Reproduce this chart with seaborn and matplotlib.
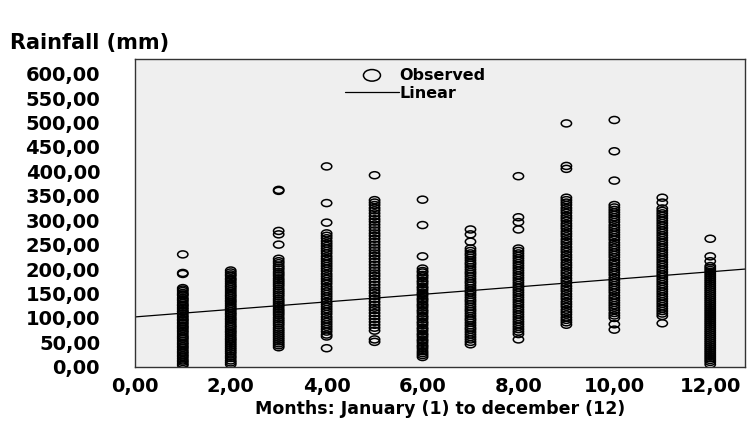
import numpy as np
import pandas as pd
import matplotlib
matplotlib.use("Agg")
import matplotlib.pyplot as plt
import seaborn as sns
from matplotlib.path import Path
from matplotlib.ticker import FuncFormatter

jan = [230, 192, 190, 161, 158, 155, 151, 148, 146, 141, 138, 135, 131, 127, 125, 121, 118,
       114, 112, 108, 104, 101, 97, 95, 91, 88, 84, 81, 78, 74, 71, 67, 63, 60, 57, 53, 49,
       46, 42, 39, 35, 31, 28, 24, 21, 17, 13, 10, 6, 3]
feb = [197, 193, 189, 186, 181, 178, 174, 170, 166, 163, 159, 155, 151, 147, 144, 140, 136,
       133, 129, 125, 121, 118, 114, 110, 107, 103, 99, 96, 92, 88, 84, 81, 77, 73, 70, 66,
       62, 58, 55, 51, 47, 43, 39, 35, 31, 27, 22, 18, 13, 9, 5]
mar = [362, 360, 278, 271, 250, 221, 216, 212, 207, 203, 199, 194, 190, 186, 181, 177, 173,
       169, 165, 160, 156, 152, 148, 144, 139, 135, 131, 127, 123, 118, 114, 110, 106, 101,
       97, 93, 89, 85, 80, 76, 72, 68, 64, 60, 56, 52, 48, 44, 40]
apr = [410, 335, 295, 273, 268, 263, 257, 252, 247, 242, 237, 232, 226, 221, 216, 211, 206,
       201, 196, 190, 185, 180, 175, 170, 164, 159, 154, 149, 144, 139, 133, 128, 123, 118,
       113, 108, 102, 97, 92, 87, 82, 77, 72, 66, 62, 38]
may = [392, 341, 336, 331, 325, 320, 314, 308, 302, 297, 291, 285, 279, 273, 268, 262, 256,
       250, 244, 238, 232, 227, 221, 215, 209, 203, 197, 191, 186, 180, 174, 168, 162, 156,
       151, 145, 139, 133, 127, 121, 116, 110, 104, 98, 92, 86, 80, 74, 56, 51]
jun = [342, 290, 226, 201, 196, 193, 188, 185, 181, 176, 173, 169, 164, 161, 157, 152, 149,
       145, 140, 137, 133, 128, 125, 121, 116, 113, 109, 104, 101, 97, 92, 89, 85, 80, 77,
       73, 68, 65, 61, 56, 53, 49, 44, 41, 37, 32, 28, 24, 20]
jul = [281, 271, 256, 242, 237, 232, 228, 223, 218, 213, 209, 204, 199, 194, 190, 185, 180,
       175, 171, 166, 161, 156, 152, 147, 142, 137, 133, 128, 123, 118, 114, 109, 104, 99,
       95, 90, 85, 80, 76, 71, 66, 61, 56, 51, 46]
aug = [390, 306, 296, 281, 242, 237, 232, 227, 222, 217, 212, 207, 202, 197, 192, 187, 182,
       177, 172, 167, 162, 157, 152, 147, 142, 137, 132, 127, 122, 117, 112, 107, 102, 97,
       92, 87, 82, 77, 72, 67, 56]
sep = [498, 411, 405, 346, 341, 336, 331, 325, 320, 315, 309, 304, 299, 293, 288, 283, 277,
       272, 267, 261, 256, 251, 245, 240, 235, 229, 224, 219, 213, 208, 203, 197, 192, 187,
       181, 176, 171, 165, 160, 155, 149, 144, 139, 133, 128, 123, 117, 112, 107, 101, 96,
       91, 86]
oct_ = [505, 441, 381, 331, 326, 321, 316, 311, 306, 301, 296, 290, 285, 280, 275, 270, 265,
        260, 254, 249, 244, 239, 234, 229, 224, 218, 213, 208, 203, 198, 193, 188, 182, 177,
        172, 167, 162, 157, 152, 146, 141, 136, 131, 126, 121, 116, 110, 105, 100, 87, 76]
nov = [346, 336, 324, 319, 314, 309, 304, 299, 294, 289, 284, 279, 274, 269, 264, 259, 254,
       249, 244, 239, 234, 229, 224, 219, 214, 209, 204, 199, 194, 189, 184, 179, 174, 169,
       164, 159, 154, 149, 144, 139, 134, 129, 124, 119, 114, 109, 104, 89]
dec = [262, 226, 216, 206, 202, 198, 194, 190, 186, 182, 178, 174, 170, 166, 162, 158, 154,
       150, 146, 142, 138, 134, 130, 126, 122, 118, 114, 110, 106, 102, 98, 94, 90, 86, 82,
       78, 74, 70, 66, 62, 58, 54, 50, 46, 42, 38, 34, 30, 26, 22, 18, 14, 10, 5]

months = [1, 2, 3, 4, 5, 6, 7, 8, 9, 10, 11, 12]
monthly = [jan, feb, mar, apr, may, jun, jul, aug, sep, oct_, nov, dec]

# linear fit end points
fit_x = [0.0, 12.73]
fit_y = [102.0, 200.0]

x_ticks = [0, 2, 4, 6, 8, 10, 12]
y_ticks = [0, 50, 100, 150, 200, 250, 300, 350, 400, 450, 500, 550, 600]

df = pd.DataFrame({
    "month": np.concatenate([[m] * len(v) for m, v in zip(months, monthly)]),
    "rain": np.concatenate(monthly),
})
fit = pd.DataFrame({"month": fit_x, "rain": fit_y})

# flat open ellipse, like the SPSS marker
circ = Path.unit_circle()
ellipse = Path(circ.vertices * np.array([1.0, 0.68]), circ.codes)

sns.set_style("white")
plt.rcParams["font.family"] = ["DejaVu Sans"]
plt.rcParams["text.color"] = "black"
plt.rcParams["axes.labelcolor"] = "black"
plt.rcParams["xtick.color"] = "black"
plt.rcParams["ytick.color"] = "black"

fig = plt.figure(figsize=(7.49, 4.30), dpi=100)
ax = fig.add_axes([0.180, 0.147, 0.815, 0.716])
ax.set_facecolor("#efefef")

sns.scatterplot(data=df, x="month", y="rain", ax=ax, marker=ellipse, s=55,
                facecolor="none", edgecolor="black", linewidth=1.1, label="Observed")
sns.lineplot(data=fit, x="month", y="rain", ax=ax, color="black", linewidth=0.9,
             label="Linear")

ax.set_xlim(0, 12.73)
ax.set_ylim(0, 630)
ax.set_xticks(x_ticks)
ax.set_yticks(y_ticks)
fmt = FuncFormatter(lambda v, p: f"{v:.2f}".replace(".", ","))
ax.xaxis.set_major_formatter(fmt)
ax.yaxis.set_major_formatter(fmt)
ax.tick_params(axis="y", direction="out", length=15, width=1.0, color="#333333",
               labelcolor="black", labelsize=14, pad=10)
ax.tick_params(axis="x", direction="out", length=8, width=1.0, color="#333333",
               labelcolor="black", labelsize=14, pad=-1)
for lbl in ax.get_xticklabels() + ax.get_yticklabels():
    lbl.set_fontweight("bold")
for sp in ax.spines.values():
    sp.set_color("#333333")
    sp.set_linewidth(1.0)

ax.set_xlabel("Months: January (1) to december (12)", fontsize=12.5, fontweight="bold",
              color="black", labelpad=3)
ax.set_ylabel("")
fig.text(0.013, 0.885, "Rainfall (mm)", fontsize=15, fontweight="bold", color="black")

leg = ax.legend(loc="upper left", bbox_to_anchor=(0.344, 0.972), frameon=False,
                prop={"size": 11.5, "weight": "bold"}, handlelength=3.4,
                handletextpad=0.0, borderpad=0.0, borderaxespad=0.0, labelspacing=0.2)
for t in leg.get_texts():
    t.set_color("black")
for h in leg.legend_handles:
    if hasattr(h, "set_sizes"):
        h.set_sizes([150])

fig.savefig("out.png", dpi=100)
